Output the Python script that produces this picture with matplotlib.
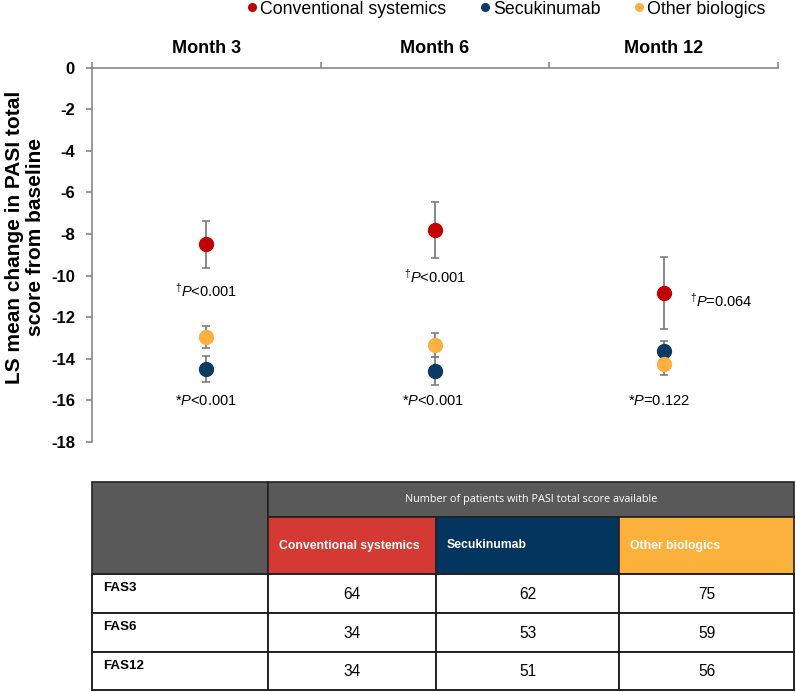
import matplotlib
matplotlib.use('Agg')
import matplotlib.pyplot as plt
from matplotlib.patches import Rectangle
from matplotlib.ticker import FixedLocator

plt.rcParams['font.family'] = ['Liberation Sans', 'DejaVu Sans']
plt.rcParams['axes.unicode_minus'] = False
plt.rcParams['mathtext.fontset'] = 'custom'
plt.rcParams['mathtext.rm'] = 'Liberation Sans'
plt.rcParams['mathtext.it'] = 'Liberation Sans:italic'
plt.rcParams['mathtext.bf'] = 'Liberation Sans:bold'

# data
groups = ['Conventional systemics', 'Secukinumab', 'Other biologics']
months = ['Month 3', 'Month 6', 'Month 12']
conv_mean = [-8.5, -7.8, -10.85]
conv_err = [1.15, 1.35, 1.73]
secu_mean = [-14.5, -14.6, -13.6]
secu_err = [0.63, 0.67, 0.47]
other_mean = [-12.95, -13.35, -14.25]
other_err = [0.55, 0.58, 0.55]
dagger_p = ['<0.001', '<0.001', '=0.064']
star_p = ['<0.001', '<0.001', '=0.122']

fas_labels = ['FAS3', 'FAS6', 'FAS12']
n_conv = [64, 34, 34]
n_secu = [62, 53, 51]
n_other = [75, 59, 56]

marker_colors = ['#C00000', '#0B3A63', '#FBB040']
cell_colors = ['#D43A33', '#04355E', '#FBB13C']
narrow = ['Liberation Sans Narrow', 'Liberation Sans', 'DejaVu Sans']

fig = plt.figure(figsize=(7.96, 6.92), dpi=100)
W, H = 796, 692
ax = fig.add_axes([92 / W, 1 - 442 / H, 686 / W, (442 - 67.7) / H])

x = [0.5, 1.5, 2.5]
means = [conv_mean, secu_mean, other_mean]
errs = [conv_err, secu_err, other_err]
handles = []
for k in range(3):
    ax.errorbar(x, means[k], yerr=errs[k], fmt='none', ecolor='#7f7f7f',
                elinewidth=1.3, capsize=3, capthick=1.2, zorder=2)
    h, = ax.plot(x, means[k], 'o', color=marker_colors[k], ms=10, ls='none',
                 zorder=3 + k, label=groups[k])
    handles.append(h)

# p-value annotations
for i in range(3):
    if i < 2:
        ax.text(x[i], conv_mean[i] - 2.25, r'$^{\dagger}\mathit{P}$' + dagger_p[i],
                ha='center', va='center', fontsize=10.5)
    else:
        ax.text(x[i] + 0.115, conv_mean[i] - 0.35, r'$^{\dagger}\mathit{P}$' + dagger_p[i],
                ha='left', va='center', fontsize=10.5)
    ax.text(x[i] - 0.01 * i, -16.03, r'*$\mathit{P}$' + star_p[i],
            ha='center', va='center', fontsize=10.5)

ax.set_xlim(0, 3)
ax.set_ylim(-18, 0)
for s in ['right', 'bottom']:
    ax.spines[s].set_visible(False)
for s in ['top', 'left']:
    ax.spines[s].set_color('#888888')
    ax.spines[s].set_linewidth(1.2)

ax.xaxis.tick_top()
ax.set_xticks([0, 1, 2, 3])
ax.set_xticklabels([])
ax.xaxis.set_minor_locator(FixedLocator(x))
ax.set_xticklabels(months, minor=True, fontsize=13, fontweight='bold')
ax.tick_params(axis='x', which='major', direction='out', length=4.2, width=1.2, color='#888888')
ax.tick_params(axis='x', which='minor', length=0, pad=8)

ax.set_yticks(range(-18, 1, 2))
ax.set_yticklabels([str(v) for v in range(-18, 1, 2)], fontsize=12, fontweight='bold')
ax.tick_params(axis='y', direction='out', length=4.3, width=1.2, color='#888888', pad=8)

fig.text(25 / W, 1 - 237 / H, 'LS mean change in PASI total\nscore from baseline',
         rotation=90, ha='center', va='center', fontsize=15, fontweight='bold',
         linespacing=1.15)

fig.legend(handles=handles, loc='center', bbox_to_anchor=(506.5 / W, 1 - 9 / H),
           ncol=3, frameon=False, fontsize=12.8, markerscale=0.55,
           handlelength=0.5, handletextpad=0.22, columnspacing=1.9,
           borderpad=0, borderaxespad=0)

# table of patient numbers
tab = fig.add_axes([0, 0, 1, 1])
tab.set_xlim(0, W)
tab.set_ylim(H, 0)
tab.axis('off')
tab.patch.set_alpha(0)

cols = [92, 268, 436, 619, 794]
rows = [482, 517, 574, 613, 652, 690]
edge = '#222222'
gray = '#595959'

tab.add_patch(Rectangle((cols[0], rows[0]), cols[1] - cols[0], rows[2] - rows[0],
                        facecolor=gray, edgecolor=edge, lw=1.2))
tab.add_patch(Rectangle((cols[1], rows[0]), cols[4] - cols[1], rows[1] - rows[0],
                        facecolor=gray, edgecolor=edge, lw=1.2))
tab.text((cols[1] + cols[4]) / 2, (rows[0] + rows[1]) / 2,
         'Number of patients with PASI total score available',
         ha='center', va='center', color='white', fontsize=7.8,
         family=['Open Sans', 'DejaVu Sans'])
for j in range(3):
    tab.add_patch(Rectangle((cols[j + 1], rows[1]), cols[j + 2] - cols[j + 1], rows[2] - rows[1],
                            facecolor=cell_colors[j], edgecolor=edge, lw=1.2))
    tab.text(cols[j + 1] + 11, (rows[1] + rows[2]) / 2, groups[j], ha='left', va='center',
             color='white', fontsize=8.8, fontweight='bold')

counts = [n_conv, n_secu, n_other]
for i in range(3):
    top, bot = rows[i + 2], rows[i + 3]
    tab.add_patch(Rectangle((cols[0], top), cols[1] - cols[0], bot - top,
                            facecolor='white', edgecolor=edge, lw=1.4))
    tab.text(cols[0] + 11, top + 14, fas_labels[i], ha='left', va='center',
             fontsize=9.6, fontweight='bold')
    for j in range(3):
        tab.add_patch(Rectangle((cols[j + 1], top), cols[j + 2] - cols[j + 1], bot - top,
                                facecolor='white', edgecolor=edge, lw=1.4))
        tab.text((cols[j + 1] + cols[j + 2]) / 2, (top + bot) / 2 + 1, str(counts[j][i]),
                 ha='center', va='center', fontsize=11.2, family=narrow)

fig.savefig('out.png', dpi=100)
